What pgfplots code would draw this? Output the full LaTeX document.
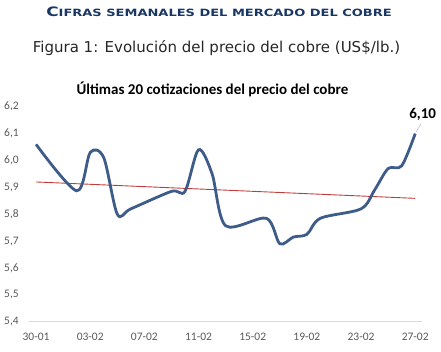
\documentclass[border=0pt]{standalone}
\usepackage{pgfplots}
\pgfplotsset{compat=1.18}
\usepackage{fontspec}
\setmainfont{Carlito}
\newfontfamily\verd{DejaVu Sans}
\definecolor{linecol}{RGB}{62,92,138}
\definecolor{trendcol}{RGB}{192,60,60}
\definecolor{tickcol}{RGB}{89,89,89}
\definecolor{axcol}{RGB}{217,217,217}
\definecolor{navy}{RGB}{25,55,100}
\begin{document}
\begin{tikzpicture}
\useasboundingbox (0pt,0pt) rectangle (441pt,-352pt);
\node[text=navy] at (219pt,-12pt) {\scalebox{1.3}[1]{\verd\bfseries\fontsize{13}{13}\selectfont C\fontsize{10}{10}\selectfont IFRAS SEMANALES DEL MERCADO DEL COBRE}};
\node[text=black!85] at (216.5pt,-48pt) {\verd\fontsize{15}{15}\selectfont Figura 1: Evolución del precio del cobre (US\$/lb.)};
\node at (212.5pt,-89pt) {\bfseries\fontsize{15}{15}\selectfont Últimas 20 cotizaciones del precio del cobre};
\begin{axis}[
  at={(29.3pt,-321.7pt)}, anchor=south west,
  scale only axis, width=392.7pt, height=215pt,
  xmin=-0.5, xmax=28.5, ymin=5.4, ymax=6.2,
  axis x line*=bottom, axis y line*=left,
  x axis line style={draw=axcol, line width=0.8pt, -},
  y axis line style={draw=none},
  xtick={0,4,...,28},
  xticklabels={30-01,03-02,07-02,11-02,15-02,19-02,23-02,27-02},
  major x tick style={draw=none},
  extra x ticks={-0.5,3.5,7.5,11.5,15.5,19.5,23.5,27.5},
  extra x tick labels={},
  extra x tick style={major tick style={draw=axcol, line width=0.8pt}, major tick length=4pt, tick align=outside},
  ytick={5.4,5.5,...,6.25},
  major y tick style={draw=none},
  tick label style={font=\fontsize{11.5}{11.5}\selectfont, text=tickcol},
  yticklabel style={/pgf/number format/use comma, /pgf/number format/fixed, /pgf/number format/fixed zerofill, /pgf/number format/precision=1, /pgf/number format/assume math mode=true, xshift=-7pt},
  xticklabel style={yshift=-8pt},
  clip=false,
]
\addplot[trendcol, line width=0.9pt] coordinates {(0,5.92) (28,5.859)};
\addplot[linecol, line width=2.8pt, smooth, tension=0.5] coordinates {
(0,6.06) (3,5.887) (4,6.03) (5,6.01) (6,5.80) (7,5.82) (10,5.885) (11,5.885)
(12,6.04) (13,5.95) (14,5.757) (17,5.785) (18,5.69) (19,5.715) (20,5.725)
(21,5.785) (24,5.82) (25,5.89) (26,5.97) (27,5.98) (28,6.10)};
\draw[black!25, line width=0.6pt] (axis cs:28,6.10) ++(0.8pt,1.5pt) -- ++(5pt,8.5pt);
\node[inner sep=0pt] at (axis cs:28,6.10) [xshift=7.5pt, yshift=19.6pt] {\bfseries\fontsize{15}{15}\selectfont 6,10};
\end{axis}
\end{tikzpicture}
\end{document}
